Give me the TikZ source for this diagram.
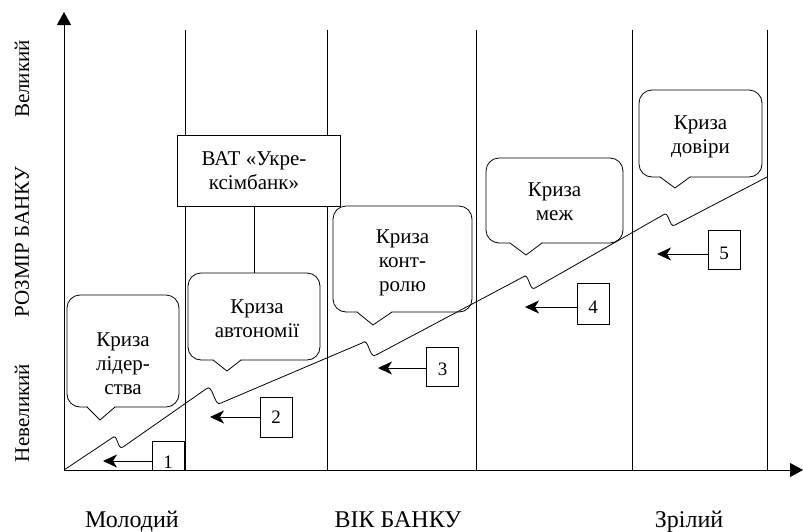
\documentclass[tikz,border=0pt]{standalone}
\usepackage{fontspec}
\setmainfont{Liberation Serif}
\usetikzlibrary{arrows.meta}

% speech bubble: #1 left, #2 top, #3 right, #4 bottom,
% #5/#6 left/right foot of the pointer, #7/#8 pointer tip
\newcommand\crisisbubble[8]{%
  \draw[bubble, rounded corners=13pt]
    (#6,#4) -- (#3,#4) -- (#3,#2) -- (#1,#2) -- (#1,#4) -- (#5,#4);
  \draw[bubble] (#5,#4) -- (#7,#8) -- (#6,#4);
}

\begin{document}
\begin{tikzpicture}[x=1pt,y=-1pt,
  line width=0.8pt,
  axis/.style={line width=1pt,-{Triangle[length=13pt,width=14pt]}},
  divider/.style={line width=0.8pt},
  bubble/.style={line width=0.8pt,line cap=round,line join=round},
  bubbletext/.style={font=\fontsize{21}{24}\selectfont,align=center,inner sep=0pt,anchor=north},
  bankbox/.style={draw,fill=white,line width=0.8pt,minimum width=163pt,minimum height=71pt,inner sep=0pt},
  numbox/.style={draw,fill=white,line width=0.8pt,minimum width=32pt,inner sep=0pt,font=\fontsize{19}{21}\selectfont},
  numarrow/.style={line width=0.8pt,-{Stealth[length=14pt,width=13pt,inset=4pt]}},
  agelabel/.style={font=\fontsize{24}{26}\selectfont,inner sep=0pt,anchor=base},
  sizelabel/.style={font=\fontsize{21}{23}\selectfont,inner sep=0pt,rotate=90},
  growth/.style={line width=0.8pt,line join=round}
]
\useasboundingbox (0,0) rectangle (803,531);

% stage dividers
\foreach \x in {185,327,476,632,767}
  \draw[divider] (\x,30) -- (\x,470);

% axes
\coordinate (O) at (64,470);
\coordinate (ytop) at (64,12);
\coordinate (xend) at (803,470);
\draw[axis] (O) -- (ytop);
\draw[axis] (O) -- (xend);

% axis captions
\node[agelabel] (young) at (132,527) {Молодий};
\node[agelabel] (age) at (398,527) {ВІК БАНКУ};
\node[agelabel] (mature) at (689,527) {Зрілий};
\node[sizelabel] (big) at (22,79) {Великий};
\node[sizelabel] (size) at (22,242) {РОЗМІР БАНКУ};
\node[sizelabel] (small) at (22,413) {Невеликий};

% bank box and its link to the autonomy crisis
\node[bankbox] (bank) at (258.5,170.5) {};
\node[bubbletext] (banktext) at (254,151) {ВАТ «Укре-\\ксімбанк»};
\coordinate (c2top) at (254,273);
\draw (bank.south -| c2top) -- (c2top);

% crisis bubbles
\crisisbubble{67}{295}{179}{407}{87}{115}{100}{420}
\node[bubbletext] (c1) at (123,332) {Криза\\лідер-\\ства};
\crisisbubble{188}{273}{320}{360}{213}{241}{227}{371}
\node[bubbletext] (c2) at (257,299) {Криза\\автономії};
\crisisbubble{333}{206}{472}{312}{357}{392}{373}{325}
\node[bubbletext] (c3) at (402.5,229) {Криза\\конт-\\ролю};
\crisisbubble{486}{158}{623}{243}{510}{542}{526}{255}
\node[bubbletext] (c4) at (554.5,182) {Криза\\меж};
\crisisbubble{639}{90}{762}{177}{660}{690}{675}{188}
\node[bubbletext] (c5) at (700.5,115) {Криза\\довіри};

% growth line with crisis notches
\draw[growth] (O) -- (112,438)
  .. controls +(6,-6) and +(-6,4) .. (123,447) -- (206,389)
  .. controls +(7,-7) and +(-7,5) .. (221,403) -- (362,343)
  .. controls +(7,-7) and +(-7,5) .. (376,355) -- (523,277)
  .. controls +(6,-6) and +(-6,4) .. (535,288) -- (663,215)
  .. controls +(6,-6) and +(-6,4) .. (675,225) -- (767,177);

% numbered stages with arrows
\node[numbox,minimum height=29pt] (n1) at (168,455.5) {\raisebox{-6.5pt}[\height][\depth]{1}};
\node[numbox,minimum height=40pt] (n2) at (276,417) {2};
\node[numbox,minimum height=39pt] (n3) at (442.5,366.5) {\raisebox{-3pt}[\height][\depth]{3}};
\node[numbox,minimum height=41pt] (n4) at (593,303.5) {\raisebox{-3.5pt}[\height][\depth]{4}};
\node[numbox,minimum height=39pt] (n5) at (724,249.5) {\raisebox{-3.5pt}[\height][\depth]{5}};

\coordinate (t1) at (103,461);
\coordinate (t2) at (210,417);
\coordinate (t3) at (378,368);
\coordinate (t4) at (525,307);
\coordinate (t5) at (657,254);
\draw[numarrow] ([yshift=-5.5pt]n1.west) -- (t1);
\draw[numarrow] (n2.west) -- (t2);
\draw[numarrow] ([yshift=-1.5pt]n3.west) -- (t3);
\draw[numarrow] ([yshift=-3.5pt]n4.west) -- (t4);
\draw[numarrow] ([yshift=-4.5pt]n5.west) -- (t5);
\end{tikzpicture}
\end{document}
